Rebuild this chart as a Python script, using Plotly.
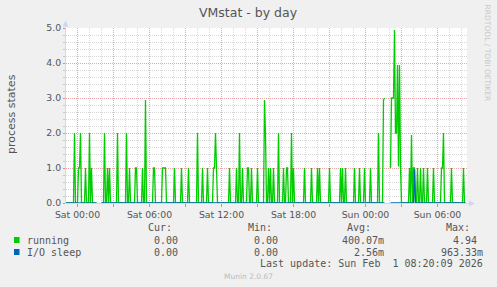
import pandas as pd
import plotly.graph_objects as go

# ---------------- data ----------------
TITLE = "VMstat - by day"
Y_LABEL = "process states"
DAYS = {"Fri": "2026-01-30", "Sat": "2026-01-31", "Sun": "2026-02-01"}

series_start = "Fri 23:00"
series_end = "Sun 08:20"
step = "5min"

x_tick_vals = ["Sat 00:00", "Sat 03:00", "Sat 06:00", "Sat 09:00", "Sat 12:00",
               "Sat 15:00", "Sat 18:00", "Sat 21:00", "Sun 00:00", "Sun 03:00",
               "Sun 06:00"]
x_tick_text = ["Sat 00:00", "", "Sat 06:00", "", "Sat 12:00", "", "Sat 18:00", "",
               "Sun 00:00", "", "Sun 06:00"]
y_tick_vals = [0, 1, 2, 3, 4, 5]
y_tick_text = ["0.0", "1.0", "2.0", "3.0", "4.0", "5.0"]

# non-zero samples of "running" (all other samples are 0)
running_times = [
    "Fri 23:45", "Sat 00:05", "Sat 00:10", "Sat 00:15", "Sat 00:40", "Sat 01:00",
    "Sat 01:10", "Sat 02:15", "Sat 02:30", "Sat 02:40", "Sat 03:20", "Sat 04:05",
    "Sat 04:20", "Sat 04:50", "Sat 04:55", "Sat 05:25", "Sat 05:40", "Sat 06:20",
    "Sat 06:25", "Sat 07:05", "Sat 07:10", "Sat 07:15", "Sat 07:20", "Sat 08:05",
    "Sat 08:40", "Sat 09:15", "Sat 10:00", "Sat 10:25", "Sat 10:50", "Sat 11:20",
    "Sat 11:25", "Sat 11:30", "Sat 11:35", "Sat 12:40", "Sat 13:15", "Sat 13:30",
    "Sat 13:45", "Sat 14:10", "Sat 14:15", "Sat 14:30", "Sat 15:00", "Sat 15:35",
    "Sat 15:40", "Sat 15:55", "Sat 16:05", "Sat 16:20", "Sat 16:45", "Sat 17:10",
    "Sat 17:25", "Sat 17:30", "Sat 17:50", "Sat 18:00", "Sat 18:55", "Sat 19:30",
    "Sat 20:00", "Sat 20:10", "Sat 21:00", "Sat 21:55", "Sat 22:05", "Sat 22:20",
    "Sat 23:05", "Sat 23:30", "Sat 23:55", "Sun 00:25", "Sun 01:05", "Sun 01:30",
    "Sun 01:35", "Sun 02:05", "Sun 02:10", "Sun 02:15", "Sun 02:20", "Sun 02:25",
    "Sun 02:30", "Sun 02:35", "Sun 02:40", "Sun 02:45", "Sun 02:50", "Sun 02:55",
    "Sun 03:40", "Sun 03:50", "Sun 04:00", "Sun 04:05", "Sun 04:20", "Sun 04:35",
    "Sun 04:50", "Sun 05:10", "Sun 05:40", "Sun 06:20", "Sun 06:25", "Sun 06:30",
    "Sun 07:10", "Sun 08:10",
]
running_values = [
    2, 1, 1, 2, 1, 2,
    1, 2, 1, 1, 2, 2,
    1, 1, 1, 1, 2.94, 1,
    1, 1, 1, 1, 1, 1,
    1, 1, 2, 1, 1, 1,
    1, 2, 1, 1, 1, 2,
    1, 1, 1, 1, 1, 2.94,
    1.94, 1, 1, 1, 2, 1,
    1, 1, 2, 1, 1, 1,
    1, 1, 1, 1, 1, 1,
    1, 1, 1, 1, 2, 2.94,
    3, 1, 3, 3, 3, 4.94,
    2, 2, 3.94, 1.04, 3.94, 1.04,
    1, 1.94, 1, 1, 1, 1,
    1, 1, 1, 1, 1, 2,
    1, 1,
]

io_sleep_times = ["Sun 04:05"]
io_sleep_values = [0.96333]

unknown_times = ["Sat 01:40", "Sat 01:45", "Sat 01:50", "Sat 01:55",
                 "Sun 01:40", "Sun 01:45", "Sun 01:50", "Sun 01:55", "Sun 02:00"]

legend_names = ["running", "I/O sleep"]
legend_colors = ["#00CC00", "#0066B3"]
legend_cur = ["0.00", "0.00"]
legend_min = ["0.00", "0.00"]
legend_avg = ["400.07m", "2.56m"]
legend_max = ["4.94", "963.33m"]
last_update = "Last update: Sun Feb\u00a0\u00a01 08:20:09 2026"
footer = "Munin 2.0.67"
watermark = "RRDTOOL / TOBI OETIKER"


def ts(s):
    d, hm = s.split(" ")
    return pd.Timestamp(DAYS[d] + " " + hm)


index = pd.date_range(ts(series_start), ts(series_end), freq=step)
running = pd.Series(0.0, index=index)
for t, v in zip(running_times, running_values):
    running[ts(t)] = v
io_sleep = pd.Series(0.0, index=index)
for t, v in zip(io_sleep_times, io_sleep_values):
    io_sleep[ts(t)] = v
for t in unknown_times:
    running[ts(t)] = float("nan")
    io_sleep[ts(t)] = float("nan")

# ---------------- layout helpers ----------------
W, H = 497, 287
L, R, T, B = 66, 30, 28, 84
PW, PH = W - L - R, H - T - B


def fx(p):
    return (p - L) / PW


def fy(p):
    return (T + PH - p) / PH


TXT = "#555555"
SANS = "DejaVu Sans"
MONO = "DejaVu Sans Mono"
MGRID = "#E6A8A8"
GRID = "#D8D8D8"
AXIS = "#CFD6F8"

x0 = ts("Sat 00:00") - pd.Timedelta(minutes=57.5)
x1 = x0 + pd.Timedelta(minutes=5 * PW)

fig = go.Figure()
fig.add_trace(go.Scatter(x=index, y=running.values, mode="lines",
                         line=dict(color=legend_colors[0], width=1.3),
                         connectgaps=False, hoverinfo="skip"))
fig.add_trace(go.Scatter(x=index, y=io_sleep.values, mode="lines",
                         line=dict(color=legend_colors[1], width=1.3),
                         connectgaps=False, hoverinfo="skip"))

fig.update_layout(
    width=W, height=H, autosize=False,
    margin=dict(l=L, r=R, t=T, b=B, pad=0),
    paper_bgcolor="#F0F0F0", plot_bgcolor="#FFFFFF",
    showlegend=False,
    xaxis=dict(
        type="date", range=[x0, x1], tickmode="array",
        tickvals=[ts(v) for v in x_tick_vals], ticktext=x_tick_text,
        showgrid=True, gridcolor=MGRID, griddash="1px,1px", gridwidth=1,
        ticks="outside", ticklen=3, tickcolor="#E08888", tickwidth=1,
        tickfont=dict(family=SANS, size=9.33, color=TXT),
        showline=True, linecolor=AXIS, linewidth=1, zeroline=False,
        layer="above traces",
        minor=dict(tickmode="linear", tick0=ts("Sat 00:00"), dtick=3600000,
                   showgrid=True, gridcolor=GRID, griddash="1px,1px",
                   gridwidth=1, ticks=""),
    ),
    yaxis=dict(
        range=[0, 5], tickmode="array", tickvals=y_tick_vals, ticktext=y_tick_text,
        showgrid=True, gridcolor=MGRID, griddash="1px,1px", gridwidth=1,
        ticks="outside", ticklen=2, tickcolor="#E08888",
        tickfont=dict(family=SANS, size=9.33, color=TXT),
        showline=True, linecolor=AXIS, linewidth=1, zeroline=False,
        layer="above traces",
        minor=dict(tickmode="linear", tick0=0, dtick=0.2, showgrid=True,
                   gridcolor=GRID, griddash="1px,1px", gridwidth=1,
                   ticks="outside", ticklen=2, tickcolor="#C8C8C8"),
    ),
)

ann = []


def text(xp, yp, s, size, color=TXT, family=SANS, xanchor="center", angle=0):
    ann.append(dict(x=fx(xp), y=fy(yp), xref="paper", yref="paper", text=s,
                    showarrow=False, xanchor=xanchor, yanchor="middle",
                    textangle=angle, borderpad=0, borderwidth=0,
                    font=dict(family=family, size=size, color=color)))


text(248.5, 12, TITLE, 12.5, color="#555555")
text(11, 114, Y_LABEL, 11, angle=-90)
text(487.7, 53.3, watermark, 7.5, color="#C8C8C8", angle=90)

# legend table
text(172.3, 227.3, "Cur:", 10, family=MONO, xanchor="right")
text(272.3, 227.3, "Min:", 10, family=MONO, xanchor="right")
text(371.0, 227.3, "Avg:", 10, family=MONO, xanchor="right")
text(470.0, 227.3, "Max:", 10, family=MONO, xanchor="right")
rows_y = [240.0, 252.0]
shapes = []
for i, name in enumerate(legend_names):
    y = rows_y[i]
    shapes.append(dict(type="rect", xref="paper", yref="paper",
                       x0=fx(14), x1=fx(19.5), y0=fy(y + 3), y1=fy(y - 3),
                       fillcolor=legend_colors[i], line=dict(width=0)))
    text(26.7, y, name, 10, family=MONO, xanchor="left")
    text(178.3, y, legend_cur[i], 10, family=MONO, xanchor="right")
    text(278.3, y, legend_min[i], 10, family=MONO, xanchor="right")
    mx = legend_max[i] if legend_max[i].endswith("m") else legend_max[i] + "\u00a0"
    av = legend_avg[i] if legend_avg[i].endswith("m") else legend_avg[i] + "\u00a0"
    text(384.0, y, av, 10, family=MONO, xanchor="right")
    text(483.0, y, mx, 10, family=MONO, xanchor="right")
text(483.0, 263.7, last_update, 10, family=MONO, xanchor="right")
text(248.0, 276.0, footer, 7.5, color="#BBBBBB")

# axis arrows / extensions
shapes.append(dict(type="line", xref="paper", yref="paper",
                   x0=fx(65.5), x1=fx(65.5), y0=fy(28), y1=fy(25),
                   line=dict(color=AXIS, width=1)))
shapes.append(dict(type="path", xref="paper", yref="paper",
                   path=f"M {fx(62.5)},{fy(26.5)} L {fx(65.5)},{fy(20.5)} L {fx(68.5)},{fy(26.5)} Z",
                   fillcolor=AXIS, line=dict(width=0)))
shapes.append(dict(type="line", xref="paper", yref="paper",
                   x0=fx(467), x1=fx(470), y0=fy(203.5), y1=fy(203.5),
                   line=dict(color=AXIS, width=1)))
shapes.append(dict(type="path", xref="paper", yref="paper",
                   path=f"M {fx(469)},{fy(200.5)} L {fx(475)},{fy(203.5)} L {fx(469)},{fy(206.5)} Z",
                   fillcolor=AXIS, line=dict(width=0)))

fig.update_layout(annotations=ann, shapes=shapes)
fig.write_html("out.html")
